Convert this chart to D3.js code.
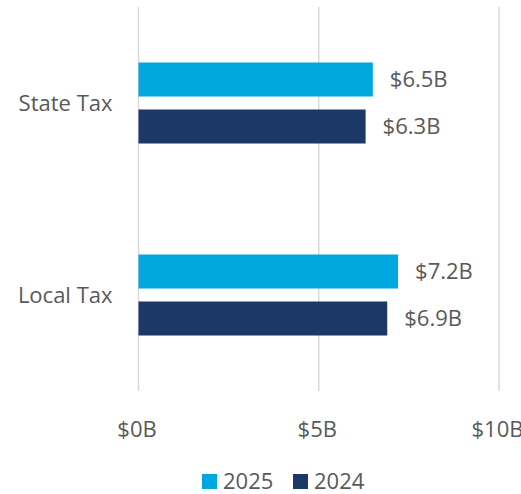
<!DOCTYPE html>
<html>
<head>
<meta charset="utf-8">
<script src="https://cdn.jsdelivr.net/npm/d3@7"></script>
<style>
  body { margin: 0; background: #fff; }
  text { font-family: "Open Sans", "Noto Sans", sans-serif; fill: #595959; }
</style>
</head>
<body>
<div id="chart"></div>
<script>
/* DATA */
const categories = ["State Tax", "Local Tax"];
const seriesNames = ["2025", "2024"];
const values2025 = [6.5, 7.2];
const values2024 = [6.3, 6.9];
const xTicks = [0, 5, 10];

/* CONSTANTS */
const width = 521,
  height = 494,
  margin = { top: 7, bottom: 103, left: 138.5, right: 22 },
  fontSize = 22,
  colors = { "2025": "#00A8E0", "2024": "#1B3866" };

const rows = categories.map((c, i) => ({
  category: c,
  bars: [
    { key: "2025", value: values2025[i] },
    { key: "2024", value: values2024[i] }
  ]
}));

const svg = d3.select("#chart")
  .append("svg")
  .attr("width", width)
  .attr("height", height);

// scales
const xScale = d3.scaleLinear()
  .domain([0, 10])
  .range([margin.left, width - margin.right]);

const yScale = d3.scaleBand()
  .domain(categories)
  .range([margin.top, height - margin.bottom]);

// bars sit inside each category band
const yInner = d3.scaleBand()
  .domain(seriesNames)
  .range([55.5, 136.5])
  .paddingInner(13 / 47);

// gridlines
svg.append("g")
  .selectAll("line")
  .data(xTicks)
  .join("line")
  .attr("x1", d => xScale(d))
  .attr("x2", d => xScale(d))
  .attr("y1", margin.top)
  .attr("y2", height - margin.bottom)
  .attr("stroke", "#d9d9d9")
  .attr("stroke-width", 1.5);

// x axis
const xAxis = d3.axisBottom(xScale)
  .tickValues(xTicks)
  .tickSize(0)
  .tickPadding(30)
  .tickFormat(d => `$${d}B`);

svg.append("g")
  .attr("transform", `translate(0, ${height - margin.bottom})`)
  .call(xAxis)
  .call(g => g.select(".domain").remove())
  .selectAll("text")
  .attr("font-size", fontSize)
  .attr("font-family", null)
  .attr("fill", "#595959")
  .attr("dx", -2);

// category labels
svg.append("g")
  .selectAll("text")
  .data(categories)
  .join("text")
  .attr("x", margin.left - 26)
  .attr("y", d => yScale(d) + yScale.bandwidth() / 2)
  .attr("dy", "0.35em")
  .attr("text-anchor", "end")
  .attr("font-size", fontSize)
  .text(d => d);

// bars
const groups = svg.append("g")
  .selectAll("g")
  .data(rows)
  .join("g")
  .attr("transform", d => `translate(0, ${yScale(d.category)})`);

groups.selectAll("rect")
  .data(d => d.bars)
  .join("rect")
  .attr("x", xScale(0))
  .attr("y", d => yInner(d.key))
  .attr("width", d => xScale(d.value) - xScale(0))
  .attr("height", yInner.bandwidth())
  .attr("fill", d => colors[d.key]);

// value labels
groups.selectAll("text")
  .data(d => d.bars)
  .join("text")
  .attr("x", d => xScale(d.value) + 17)
  .attr("y", d => yInner(d.key) + yInner.bandwidth() / 2)
  .attr("dy", "0.35em")
  .attr("font-size", fontSize)
  .text(d => `$${d3.format(".1f")(d.value)}B`);

// legend
const legend = svg.append("g")
  .attr("transform", `translate(202, 474)`);

const legendX = [0, 91];
const items = legend.selectAll("g")
  .data(seriesNames)
  .join("g")
  .attr("transform", (d, i) => `translate(${legendX[i]}, 0)`);

items.append("rect")
  .attr("width", 15)
  .attr("height", 15)
  .attr("fill", d => colors[d]);

items.append("text")
  .attr("x", 21)
  .attr("y", 7.5)
  .attr("dy", "0.35em")
  .attr("font-size", fontSize)
  .text(d => d);
</script>
</body>
</html>
